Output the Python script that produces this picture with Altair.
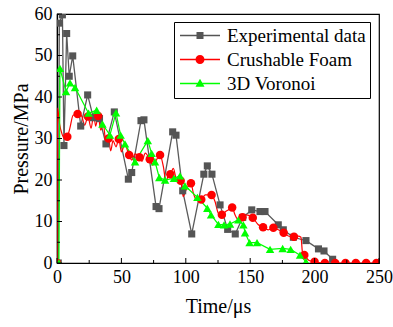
import altair as alt
import pandas as pd

# ---------------- data ----------------
series_names = ["Experimental data", "Crushable Foam", "3D Voronoi"]
series_colors = ["#555555", "#ff0000", "#00ff00"]

exp_t = [1, 1.8, 4.2, 5.4, 7.5, 9.5, 12.2, 18.4, 23.8, 28.2, 33, 38, 44.5, 55.4, 58,
         65.2, 67.5, 76.9, 79.2, 89.8, 92.4, 97.6, 104.6, 114, 116.7, 120.3, 126.6,
         132.5, 138.4, 144.2, 151.2, 157.6, 161.5, 171.8, 175.7, 183.5, 193.3, 203,
         207.3, 214]
exp_p = [0, 57.8, 59.8, 28.3, 55.3, 45, 49.9, 33, 40.5, 35, 34.8, 28.7, 36.4, 20.2, 21.8,
         34.3, 34.5, 13.6, 13.1, 31.6, 30.8, 17.4, 7, 21.4, 23.4, 21.4, 14,
         8.1, 7, 11, 12.8, 12.4, 12.4, 9.2, 8, 6.2, 5.4, 3.4,
         2.9, 0.9]

foam_line_t = [0, 0.4, 2, 4, 6, 8, 10, 12.5, 16, 19, 21.5, 24, 26.5, 28.5, 30, 32, 34, 36,
               37.8, 40, 41.7, 43.5, 45.8, 48, 50, 52.5, 56, 58, 60.6, 64, 66, 68.5, 72,
               74.3, 76.5, 80, 82.6, 84.6, 86.5, 88, 90.3, 92.9, 96, 98, 100.2, 104, 105.9,
               108.4, 112, 115, 120, 122.7, 125.3, 128, 130.5, 133, 136, 138.2, 140.8, 144,
               147.3, 152, 156.3, 160, 164, 168, 171.8, 176, 179.6, 184, 187.3, 189.4,
               190.7, 192, 195.7, 200, 208, 250]
foam_line_p = [0, 37.3, 33.5, 31, 30, 30.4, 32.5, 35.6, 35.9, 35.5, 33.2, 35.3, 32.5, 35.8,
               33, 35.4, 32, 33.5, 29.5, 30, 27, 29.5, 28, 29.9, 26.8, 28.5, 26, 24.8, 26.3,
               25.5, 24.5, 26.5, 25, 23.6, 24.5, 26, 23.2, 19.6, 21.2, 21.4, 22.8, 20, 19.8,
               16, 17.6, 19.2, 16.8, 15.2, 15.3, 16.4, 16.4, 14.8, 12, 11.6, 12.3, 12.8,
               13.4, 11.6, 10.4, 11, 11.6, 10.9, 9.2, 8.6, 8, 8.5, 8, 7.3, 6.5, 6.3, 6.5,
               6.2, 2.3, 1.9, 0.6, 0.3, 0, 0]

foam_mark_t = [0, 8, 16, 24, 32, 40, 48, 56, 64, 72, 80, 88, 96, 104, 112, 120, 128, 136,
               144, 152, 160, 168, 176, 184, 192, 200, 208, 216, 224, 232, 240, 248]
foam_mark_p = [0, 30.4, 35.9, 35.3, 35.4, 30, 29.9, 26, 25.5, 25, 26, 21.4, 19.8, 19.2,
               15.3, 16.4, 11.6, 13.4, 11, 10.9, 8.6, 8.5, 7.3, 6.3, 1.9, 0.3, 0, 0, 0, 0,
               0, 0]

vor_t = [1.5, 2.3, 7, 10.1, 14, 24.5, 30.8, 35.3, 41.1, 45.8, 49.4, 52.8, 60.6, 70.5,
         73.5, 76.1, 79.4, 83.9, 90.8, 95.5, 99.4, 109, 116.7, 119.6, 125.3, 129.7,
         134.3, 140.8, 144.7, 146, 149.5, 155.3, 165.4, 175.2, 181.4, 188.7, 193.3]
vor_p = [0, 46.9, 41.3, 43.4, 42.3, 36.1, 36.8, 33.5, 30.8, 36.2, 30.8, 28.7, 24.4, 29.5,
         26.4, 24.4, 20.6, 20, 20.4, 21, 18.6, 15.8, 13.2, 11.6, 9.3, 9.2,
         9.4, 10.4, 9.2, 7.3, 4.9, 4.9, 3.3, 3.5, 3.3, 1.9, 0.3]

x_major = [0, 50, 100, 150, 200, 250]
x_minor = [25, 75, 125, 175, 225]
y_major = [0, 10, 20, 30, 40, 50, 60]
y_minor = [5, 15, 25, 35, 45, 55]

# ---------------- frames ----------------
exp_df = pd.DataFrame({"t": exp_t, "p": exp_p})
foam_line_df = pd.DataFrame({"t": foam_line_t, "p": foam_line_p})
foam_mark_df = pd.DataFrame({"t": foam_mark_t, "p": foam_mark_p})
vor_df = pd.DataFrame({"t": vor_t, "p": vor_p})
legend_df = pd.DataFrame({"s": series_names})

W, H = 322, 249
FONT = "Liberation Serif"

xs = alt.Scale(domain=[0, 250], nice=False, zero=False)
ys = alt.Scale(domain=[0, 60], nice=False)
X = alt.X("t:Q", scale=xs, axis=alt.Axis(values=x_major, title="Time/μs", labelFlush=False,
                                         titlePadding=10, labelFont=FONT, titleFont=FONT))
Y = alt.Y("p:Q", scale=ys, axis=alt.Axis(values=y_major, title="Pressure/MPa",
                                         labelFlush=False, titlePadding=3,
                                         labelFont=FONT, titleFont=FONT))


def lines(df, color, width, **kw):
    return alt.Chart(df).mark_line(color=color, strokeWidth=width, clip=True, **kw).encode(x=X, y=Y)


def points(df, color, shape, size):
    return alt.Chart(df).mark_point(shape=shape, filled=True, size=size, color=color,
                                    opacity=1, strokeWidth=0, clip=True).encode(x=X, y=Y)


gray_line = lines(exp_df, "#5a5a5a", 1.3)
red_line = lines(foam_line_df, "#ff0000", 1.2, interpolate="monotone")
green_line = lines(vor_df, "#00ff00", 1.2)
gray_pts = points(exp_df, "#555555", "square", 50)
red_pts = points(foam_mark_df, "#ff0000", "circle", 72)
green_pts = points(vor_df, "#00ff00", "triangle-up", 72)

# legend symbols: a line segment with the marker in its middle (unit = 7.5 px)
sq = "M1.2,-0.4667H2.1333V0.4667H1.2Z"
ci = "M1.0667,0A0.6,0.6,0,1,1,2.2667,0A0.6,0.6,0,1,1,1.0667,0Z"
tr = "M1.6667,-0.6267L2.2667,0.44L1.0667,0.44Z"
ln = "M-1,-0.0933H4.3333V0.0933H-1Z"
legend_paths = [ln + sq, ln + ci, ln + tr]

leg = alt.Legend(title=None, orient="none", legendX=117, legendY=8, strokeColor="black",
                 fillColor="white", padding=4, labelFont=FONT, labelFontSize=19,
                 labelColor="black", symbolSize=225, labelOffset=30, rowPadding=4,
                 symbolStrokeWidth=0, symbolOpacity=1, labelLimit=300)
legend_layer = alt.Chart(legend_df).mark_point(filled=True, opacity=1).encode(
    color=alt.Color("s:N", scale=alt.Scale(domain=series_names, range=series_colors), legend=leg),
    shape=alt.Shape("s:N", scale=alt.Scale(domain=series_names, range=legend_paths), legend=leg),
).transform_filter("false")

# inward ticks
xt_major = alt.Chart(pd.DataFrame({"t": x_major})).mark_rule(color="black", strokeWidth=1).encode(
    x=alt.X("t:Q", scale=xs), y=alt.value(H), y2=alt.value(H - 5))
xt_minor = alt.Chart(pd.DataFrame({"t": x_minor})).mark_rule(color="black", strokeWidth=1).encode(
    x=alt.X("t:Q", scale=xs), y=alt.value(H), y2=alt.value(H - 3))
yt_major = alt.Chart(pd.DataFrame({"p": y_major})).mark_rule(color="black", strokeWidth=1).encode(
    y=alt.Y("p:Q", scale=ys), x=alt.value(0), x2=alt.value(5))
yt_minor = alt.Chart(pd.DataFrame({"p": y_minor})).mark_rule(color="black", strokeWidth=1).encode(
    y=alt.Y("p:Q", scale=ys), x=alt.value(0), x2=alt.value(3))

chart = alt.layer(
    gray_line, red_line, green_line, gray_pts, red_pts, green_pts,
    xt_major, xt_minor, yt_major, yt_minor, legend_layer,
).properties(
    width=W, height=H,
    padding={"left": 57, "top": 14, "right": 14, "bottom": 64},
    autosize=alt.AutoSizeParams(type="none"),
    background="white",
).configure_view(stroke="black", strokeWidth=1.2).configure_axis(
    domainColor="black", domainWidth=1.2, labelColor="black", titleColor="black",
    labelFont=FONT, titleFont=FONT, labelFontSize=18, titleFontSize=20,
    titleFontWeight="normal", ticks=False, grid=False, labelPadding=5,
).configure_legend(labelFont=FONT, labelFontSize=19, labelColor="black")

chart.save("out.html", embed_options={"renderer": "svg", "actions": False})
